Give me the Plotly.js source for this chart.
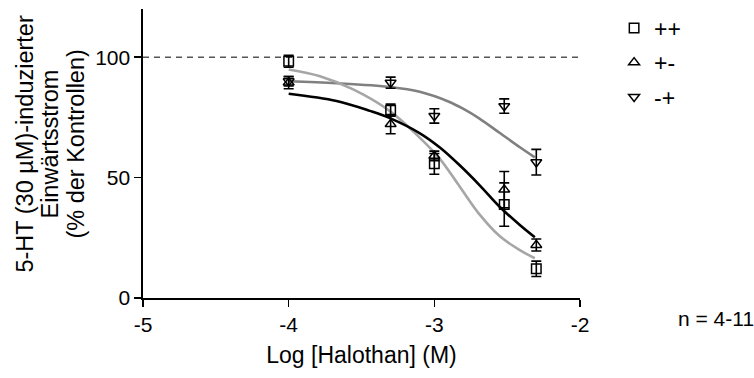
<!DOCTYPE html>
<html>
<head>
<meta charset="utf-8">
<script src="https://cdn.plot.ly/plotly-3.0.1.min.js"></script>
<style>html,body{margin:0;padding:0;background:#fff;}#chart{width:754px;height:378px;}</style>
</head>
<body>
<div id="chart"></div>
<script>
// Data (log molar halothane concentration)
const logConc = [-4, -3.3, -3, -2.52, -2.3];
const ppMean = [98.3, 78, 55.7, 38.8, 12.1];
const ppErr  = [2.5, 2.5, 4.3, 9, 3.2];
const pmMean = [89.4, 72.2, 59, 45, 22];
const pmErr  = [2.5, 4, 2, 7.5, 2.5];
const mpMean = [90, 89.4, 75.6, 79.7, 56.4];
const mpErr  = [2, 2.3, 3, 3, 5.3];

// Fitted curves
const ppFitX = [-4, -3.785, -3.557, -3.305, -3.099, -2.962, -2.824, -2.687, -2.55, -2.413, -2.31];
const ppFitY = [94.9, 92.1, 86.6, 77.6, 66.5, 57.8, 46.1, 34.5, 25.6, 19.9, 16.5];
const pmFitX = [-4, -3.671, -3.442, -3.305, -3.099, -2.962, -2.824, -2.687, -2.55, -2.413, -2.31];
const pmFitY = [84.8, 81.8, 77.7, 74.7, 68.4, 62.5, 55, 46.7, 37.8, 30.3, 25.2];
const mpFitX = [-4, -3.671, -3.3, -3.1, -2.9, -2.8, -2.69, -2.55, -2.41, -2.31];
const mpFitY = [90, 89.2, 87.6, 85.6, 81.5, 78.5, 74.5, 68.5, 62.5, 58.4];

const xTicks = [-5, -4, -3, -2];
const yTicks = [0, 50, 100];
const controlLevel = 100;
const groupNames = ['++', '+-', '-+'];
const yTitleLines = ['5-HT (30 µM)-induzierter', 'Einwärtsstrom', '(% der Kontrollen)'];

const FONT = 'Liberation Sans, Arial, sans-serif';

function pts(mean, err, sym, name, grp) {
  return {
    x: logConc, y: mean, type: 'scatter', mode: 'markers', name: name,
    legendgroup: grp, cliponaxis: false,
    marker: {symbol: sym, size: 9.5, color: '#000', line: {color: '#000', width: 1.5}},
    error_y: {type: 'data', array: err, visible: true, color: '#000', thickness: 1.6, width: 5}
  };
}
function fit(x, y, color) {
  return {x: x, y: y, type: 'scatter', mode: 'lines', showlegend: false, hoverinfo: 'skip',
    line: {color: color, width: 2.6, shape: 'spline', smoothing: 1}};
}

const data = [
  fit(mpFitX, mpFitY, '#808080'),
  fit(ppFitX, ppFitY, '#a6a6a6'),
  fit(pmFitX, pmFitY, '#000000'),
  pts(ppMean, ppErr, 'square-open', groupNames[0], 'a'),
  pts(pmMean, pmErr, 'triangle-up-open', groupNames[1], 'b'),
  pts(mpMean, mpErr, 'triangle-down-open', groupNames[2], 'c')
];

const titleXs = [-0.27, -0.2128, -0.1533];
const annotations = yTitleLines.map((t, i) => ({
  xref: 'paper', yref: 'paper', x: titleXs[i], y: 0.531, xanchor: 'center', yanchor: 'middle',
  textangle: -90, showarrow: false, text: t, font: {size: 23.5, family: FONT}
}));
annotations.push({xref: 'paper', yref: 'paper', x: 1.22, y: -0.07, xanchor: 'left', yanchor: 'middle',
  showarrow: false, text: 'n = 4-11', font: {size: 21, family: FONT}});

const layout = {
  width: 754, height: 378,
  margin: {l: 143, r: 174, t: 8, b: 80},
  paper_bgcolor: '#fff', plot_bgcolor: '#fff',
  font: {family: FONT, color: '#000', size: 21},
  showlegend: true,
  legend: {x: 1.078, y: 1.005, xanchor: 'left', yanchor: 'top', traceorder: 'grouped',
    tracegroupgap: 1.5, font: {size: 23, family: FONT}, bgcolor: 'rgba(0,0,0,0)', itemwidth: 30},
  xaxis: {
    range: [-5, -2], tickvals: xTicks, ticktext: xTicks.map(String),
    showgrid: false, zeroline: false, showline: true, linecolor: '#000', linewidth: 1.6,
    ticks: 'outside', ticklen: 7, tickwidth: 1.6, tickcolor: '#000',
    tickfont: {size: 21, family: FONT},
    title: {text: 'Log [Halothan] (M)', font: {size: 23, family: FONT}, standoff: 12}
  },
  yaxis: {
    range: [0, 120], tickvals: yTicks, ticktext: yTicks.map(String),
    showgrid: false, zeroline: false, showline: true, linecolor: '#000', linewidth: 1.6,
    ticks: 'outside', ticklen: 7, tickwidth: 1.6, tickcolor: '#000',
    tickfont: {size: 21, family: FONT}
  },
  shapes: [{type: 'line', xref: 'x', yref: 'y', x0: xTicks[0], x1: xTicks[xTicks.length - 1],
    y0: controlLevel, y1: controlLevel, line: {color: '#000', width: 1, dash: '6px,5px'}}],
  annotations: annotations
};

Plotly.newPlot('chart', data, layout, {displayModeBar: false, staticPlot: true});
</script>
</body>
</html>
